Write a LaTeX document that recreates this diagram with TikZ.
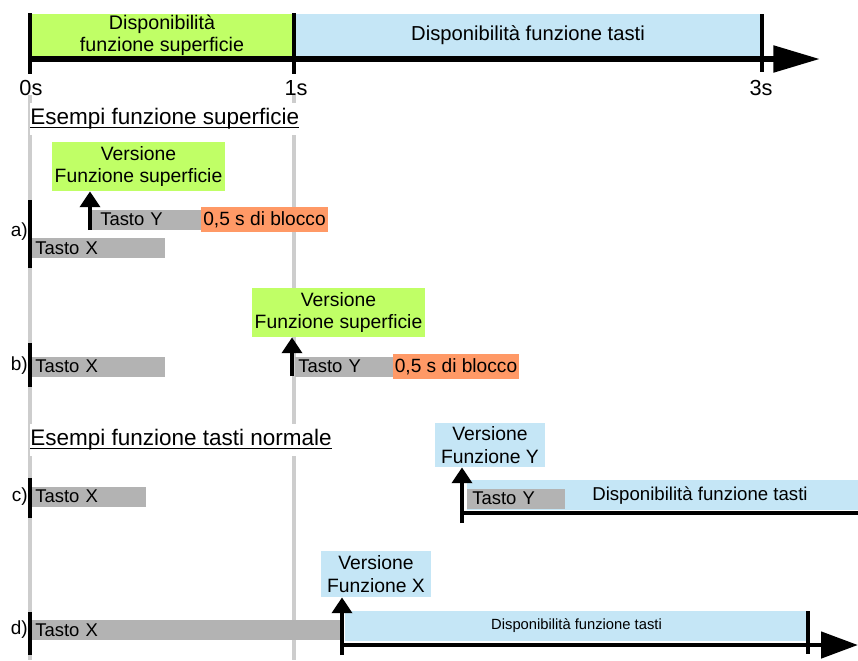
\documentclass[tikz,border=0pt]{standalone}
\usepackage{xcolor}
\usepackage{fontspec}
\setmainfont{Liberation Sans}
\usepackage{tikz}
\usetikzlibrary{arrows.meta}
\usetikzlibrary{positioning}
\definecolor{surfgreen}{RGB}{192,255,102}
\definecolor{keyblue}{RGB}{197,230,246}
\definecolor{pressgray}{RGB}{179,179,179}
\definecolor{lockorange}{RGB}{255,153,102}
\definecolor{guidegray}{RGB}{205,205,205}
\newcommand{\fs}[2]{\fontsize{#1}{#2}\selectfont}
\tikzstyle{timeaxis} = [line width = 3.4pt, -{Triangle[length = 26.6pt, width = 14.7pt]}]
\tikzstyle{timetick} = [line width = 2.8pt]
\tikzstyle{guide} = [line width = 2pt, draw = guidegray]
\tikzstyle{startbar} = [line width = 2.8pt]
\tikzstyle{keyline} = [line width = 2.8pt]
\tikzstyle{pressarrow} = [line width = 2.3pt, -{Triangle[length = 9pt, width = 11.3pt]}]
\tikzstyle{keybar} = [fill = pressgray, anchor = west, inner xsep = 1.7pt, inner ysep = 0pt, minimum height = 0.4cm, align = left, font = \fs{10.5}{12}]
\tikzstyle{lockbox} = [fill = lockorange, inner sep = 0, minimum width = 2.54cm, minimum height = 0.5cm, font = \fs{10.9}{12}]
\tikzstyle{version} = [inner sep = 0, align = center, font = \fs{11}{13}]
\tikzstyle{heading} = [fill = white, inner xsep = 0pt, inner ysep = 3pt, anchor = west, font = \fs{12.8}{15}]
\tikzstyle{underline} = [line width = 0.8pt]
\tikzstyle{rowlabel} = [inner sep = 0, anchor = east, font = \fs{10.8}{12}]
\tikzstyle{timelabel} = [inner sep = 0, font = \fs{12.4}{14}]

\begin{document}
\begin{tikzpicture}[x = 0.02cm, y = -0.02cm]
\useasboundingbox (0, 0) rectangle (858, 660);
% guides at 0s and 1s
\draw [guide] (30, 95) -- (30, 660);
\draw [guide] (294, 95) -- (294, 660);
% time line
\node [fill = surfgreen, inner sep = 0, minimum width = 5.28cm, minimum height = 0.84cm, align = center, font = \fs{11.2}{12.6}] (surf) at (162, 35) {Disponibilità\\funzione superficie};
\node [fill = keyblue, inner sep = 0, minimum width = 9.36cm, minimum height = 0.84cm, font = \fs{11.5}{13}] (keys) at (528, 35) {Disponibilità funzione tasti};
\coordinate (origin) at (28, 59);
\coordinate (tend) at (820, 59);
\draw [timeaxis] (origin) -- (tend);
\draw [timetick] (30, 13) -- (30, 74);
\draw [timetick] (294, 13) -- (294, 74);
\draw [timetick] (762, 14) -- (762, 72);
\node [timelabel] (t0) at (31, 88) {0s};
\node [timelabel] (t1) at (296, 88) {1s};
\node [timelabel] (t3) at (761, 88) {3s};
\node [heading] (hsurf) at (30, 119) {Esempi funzione superficie};
\draw [underline] ([yshift = -1.6pt]hsurf.base west) -- ([yshift = -1.6pt]hsurf.base east);
\node [heading] (hkeys) at (30, 440) {Esempi funzione tasti normale};
\draw [underline] ([yshift = -1.6pt]hkeys.base west) -- ([yshift = -1.6pt]hkeys.base east);
% a)
\draw [startbar] (30, 200) -- (30, 268);
\node [rowlabel] (la) at (28, 232) {a)};
\node [keybar, text width = 2.54cm] (ax) at (32, 248) {Tasto X};
\node [keybar, text width = 1.86cm, inner xsep = 4.5pt] (ay) at (92, 219.5) {Tasto Y};
\node [lockbox] (alock) at (264.5, 219.5) {0,5 s di blocco};
\node [version, fill = surfgreen, minimum width = 3.46cm, minimum height = 0.98cm] (aver) at (138.5, 166.5) {Versione\\Funzione superficie};
\coordinate (apress) at (90, 230);
\draw [pressarrow] (apress) -- (apress |- aver.south);
% b)
\draw [startbar] (30, 343) -- (30, 387);
\node [rowlabel] (lb) at (28, 366) {b)};
\node [keybar, text width = 2.54cm] (bx) at (32, 366.5) {Tasto X};
\node [keybar, text width = 1.84cm] (by) at (295, 366.5) {Tasto Y};
\node [lockbox, minimum width = 2.52cm] (block) at (456, 366.5) {0,5 s di blocco};
\node [version, fill = surfgreen, minimum width = 3.46cm, minimum height = 0.98cm] (bver) at (338.5, 312.5) {Versione\\Funzione superficie};
\coordinate (bpress) at (292, 376);
\draw [pressarrow] (bpress) -- (bpress |- bver.south);
% c)
\draw [startbar] (30, 478) -- (30, 518);
\node [rowlabel] (lc) at (28, 497) {c)};
\node [keybar, text width = 2.16cm] (cx) at (32, 496.5) {Tasto X};
\node [fill = keyblue, inner sep = 0, minimum width = 7.82cm, minimum height = 0.6cm] (cband) at (662.5, 495) {};
\node [keybar, text width = 1.76cm, inner xsep = 2.8pt] (cy) at (467, 498.5) {Tasto Y};
\node [inner sep = 0, font = \fs{10.6}{12}] (ctext) at (700, 496) {Disponibilità funzione tasti};
\node [version, fill = keyblue, minimum width = 2.2cm, minimum height = 0.88cm] (cver) at (490, 445) {Versione\\Funzione Y};
\coordinate (cstart) at (462, 513);
\coordinate (cend) at (858, 513);
\draw [keyline] (cstart) -- (cend);
\coordinate (cpress) at (462, 523);
\draw [pressarrow] (cpress) -- (cpress |- cver.south);
% d)
\draw [startbar] (30, 612) -- (30, 655);
\node [rowlabel] (ld) at (28, 630) {d)};
\node [keybar, text width = 6.08cm] (dx) at (32, 630) {Tasto X};
\node [fill = keyblue, inner sep = 0, minimum width = 9.26cm, minimum height = 0.6cm, font = \fs{8.4}{10}] (dband) at (576.5, 626) {Disponibilità funzione tasti};
\node [version, fill = keyblue, minimum width = 2.2cm, minimum height = 0.92cm] (dver) at (376, 574) {Versione\\Funzione X};
\coordinate (dstart) at (342, 645);
\coordinate (dend) at (858, 645);
\draw [keyline, -{Triangle[length = 21pt, width = 14.7pt]}] (dstart) -- (dend);
\draw [timetick] (808, 611) -- (808, 654);
\coordinate (dpress) at (342, 655);
\draw [pressarrow] (dpress) -- (dpress |- dver.south);
\end{tikzpicture}
\end{document}
